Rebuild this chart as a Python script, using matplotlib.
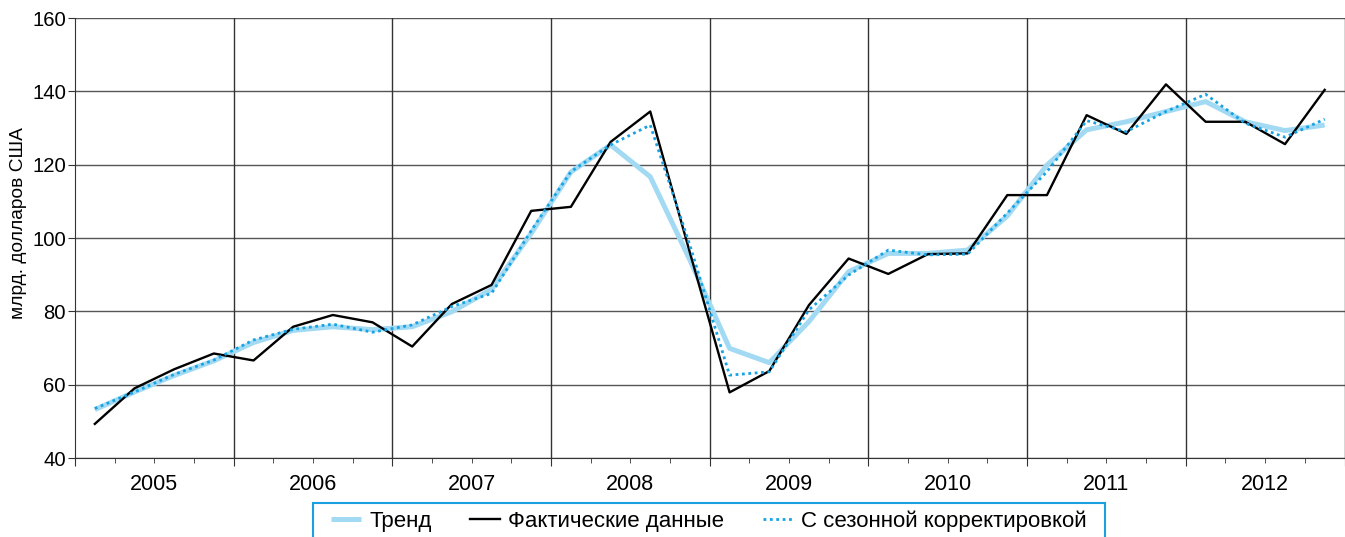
import matplotlib
matplotlib.use("Agg")
import matplotlib.pyplot as plt
import matplotlib.transforms as mtransforms
from matplotlib.patches import Rectangle
import numpy as np

years = ["2005", "2006", "2007", "2008", "2009", "2010", "2011", "2012"]

trend = [53.2, 58.0, 62.5, 66.5, 71.5, 74.8, 75.8, 75.0,
         75.8, 79.9, 86.0, 101.3, 118.0, 125.4, 116.7, 94.0,
         69.9, 66.0, 77.2, 90.8, 95.8, 95.8, 96.7, 106.0,
         119.9, 129.5, 131.7, 134.5, 137.2, 131.7, 129.3, 130.8]

actual = [49.3, 59.0, 64.2, 68.5, 66.6, 75.8, 79.0, 77.0,
          70.4, 82.0, 87.2, 107.4, 108.5, 126.2, 134.5, 96.0,
          57.9, 63.7, 81.7, 94.4, 90.2, 95.6, 95.8, 111.7,
          111.7, 133.5, 128.4, 141.9, 131.7, 131.7, 125.6, 140.4]

seasonal = [53.5, 58.0, 62.8, 66.7, 72.2, 75.1, 76.5, 74.3,
            76.3, 81.3, 84.9, 102.0, 118.1, 125.4, 130.8, 98.0,
            62.6, 63.5, 80.4, 89.9, 96.7, 95.4, 95.6, 106.8,
            118.1, 132.0, 129.0, 134.5, 139.2, 131.3, 127.5, 132.4]

labels = ["Тренд", "Фактические данные", "С сезонной корректировкой"]
yticks = [40, 60, 80, 100, 120, 140, 160]

plt.rcParams['font.family'] = ['Liberation Sans', 'DejaVu Sans']

W, H = 1345, 537
fig = plt.figure(figsize=(W / 100, H / 100), dpi=100)
ax = fig.add_axes([75 / W, (H - 458) / H, 1 - 75 / W - 0.5 / W, 440 / H])

n = len(actual)
x = np.arange(n) + 0.5

ax.plot(x, trend, color='#a3daf3', lw=3.6, solid_capstyle='butt', label=labels[0], zorder=3)
ax.plot(x, actual, color='black', lw=1.7, label=labels[1], zorder=4)
ax.plot(x, seasonal, color='#16a3e3', lw=2.0, linestyle=(0, (1, 1.3)), label=labels[2], zorder=5)

ax.set_xlim(0, n)
ax.set_ylim(40, 160)

ax.set_yticks(yticks)
ax.yaxis.grid(True, color='#555555', lw=1)
ax.set_axisbelow(True)
for k in range(1, len(years) + 1):
    ax.axvline(4 * k, color='#333333', lw=1, zorder=1)

ax.set_xticks(np.arange(0, n + 1, 4))
ax.set_xticklabels([])
ax.set_xticks(np.arange(0, n + 1), minor=True)
ax.tick_params(axis='x', which='major', length=5.5, direction='out', color='#333333')
ax.tick_params(axis='x', which='minor', length=3.5, direction='out', color='#333333')
ax.tick_params(axis='y', length=5, direction='out', labelsize=14.6, color='#333333', pad=1.5)

trans = mtransforms.blended_transform_factory(ax.transData, ax.transAxes)
for k, yr in enumerate(years):
    ax.text(4 * k + 2, -(484 - 458) / 440, yr, transform=trans, ha='center', va='center',
            fontsize=15.5)

for s in ['top', 'right']:
    ax.spines[s].set_visible(False)
ax.spines['left'].set_color('#333333')
ax.spines['bottom'].set_color('#333333')

ax.set_ylabel("млрд. долларов США", fontsize=13.8)
ax.yaxis.set_label_coords((27 - 75) / 1270, (458 - 223) / 440)

leg = fig.legend(loc='center', bbox_to_anchor=(709 / W, 1 - 521 / H), ncol=3,
                 frameon=False, fontsize=16, handlelength=1.35,
                 columnspacing=1.75, handletextpad=0.36)

fig.patches.append(Rectangle((313 / W, (H - 545) / H), (1105 - 313) / W, 42 / H,
                             transform=fig.transFigure, fill=False,
                             edgecolor='#1aa0e0', lw=1.5, zorder=0))

fig.savefig("out.png", dpi=100)
